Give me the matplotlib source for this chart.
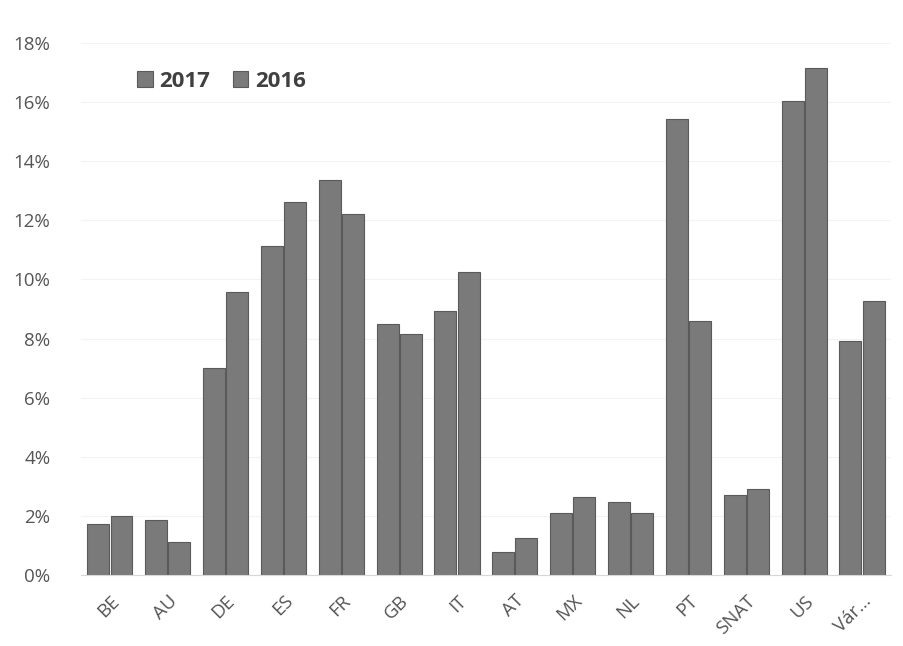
import numpy as np
import matplotlib.pyplot as plt
from matplotlib.ticker import PercentFormatter

countries = ["BE", "AU", "DE", "ES", "FR", "GB", "IT", "AT", "MX", "NL",
             "PT", "SNAT", "US", "Vár..."]
share_2017 = [1.73, 1.86, 7.0, 11.13, 13.37, 8.5, 8.93, 0.79, 2.09, 2.48,
              15.42, 2.71, 16.04, 7.93]
share_2016 = [2.0, 1.12, 9.59, 12.63, 12.23, 8.17, 10.26, 1.26, 2.63, 2.1,
              8.59, 2.91, 17.14, 9.26]

plt.rcParams['font.family'] = ['Open Sans', 'DejaVu Sans']

fig = plt.figure(figsize=(9.04, 6.46), dpi=100)
ax = fig.add_axes([0.0896, 0.1099, 0.896, 0.8235])

x = np.arange(len(countries))
w = 0.38
bar_kw = dict(color='#7a7a7a', edgecolor='#5a5a5a', linewidth=0.8)
ax.bar(x - 0.2, share_2017, w, label='2017', **bar_kw)
ax.bar(x + 0.2, share_2016, w, label='2016', **bar_kw)

ax.set_xlim(-0.5, len(countries) - 0.5)
ax.set_ylim(0, 18)
ax.set_yticks(np.arange(0, 19, 2))
ax.yaxis.set_major_formatter(PercentFormatter(decimals=0))
ax.grid(axis='y', color='#f3f3f3', linewidth=0.8)
ax.set_axisbelow(True)

for s in ['top', 'right', 'left']:
    ax.spines[s].set_visible(False)
ax.spines['bottom'].set_color('#d8d8d8')

ax.set_xticks(x)
ax.set_xticklabels(countries, rotation=45, ha='right', rotation_mode='anchor',
                   fontsize=13.5, color='#555555')
ax.tick_params(axis='x', length=0, pad=12)
ax.tick_params(axis='y', length=0, labelsize=13.5, labelcolor='#555555', pad=22)

ax.legend(loc='upper left', bbox_to_anchor=(0.045, 0.985), ncol=2, frameon=False,
          handlelength=0.7, handleheight=0.7, handletextpad=0.3,
          columnspacing=1.0, prop={'weight': 'bold', 'size': 16})
for t in ax.get_legend().get_texts():
    t.set_color('#404040')

fig.savefig('out.png', dpi=100)
